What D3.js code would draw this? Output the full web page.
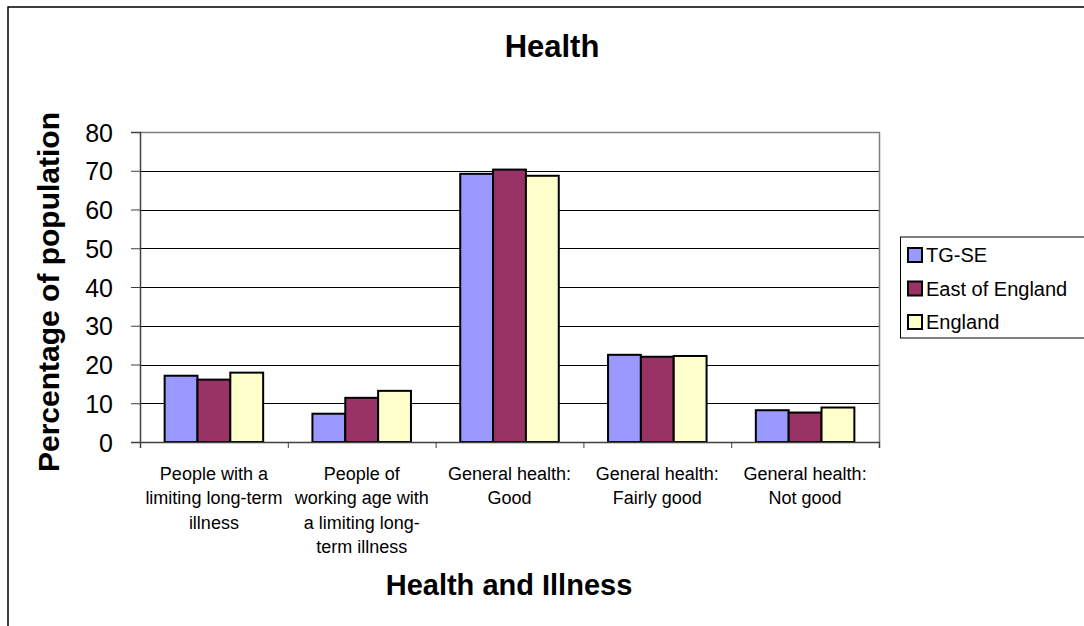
<!DOCTYPE html>
<html><head><meta charset="utf-8">
<script src="https://cdn.jsdelivr.net/npm/d3@7"></script>
<style>body{margin:0;background:#fff}svg{display:block;font-family:"Liberation Sans",Arial,sans-serif}</style>
</head><body><svg id="c" width="1084" height="626"></svg>
<script>
const categories = [
  ["People with a","limiting long-term","illness"],
  ["People of","working age with","a limiting long-","term illness"],
  ["General health:","Good"],
  ["General health:","Fairly good"],
  ["General health:","Not good"]
];
const seriesNames = ["TG-SE","East of England","England"];
const tgse = [17.1, 7.3, 69.2, 22.5, 8.2];
const eastOfEngland = [16.1, 11.4, 70.3, 22.0, 7.6];
const england = [17.9, 13.2, 68.7, 22.2, 8.9];
const colors = ["#9999ff","#993366","#ffffcc"];
const yTicks = [0,10,20,30,40,50,60,70,80];

const series = [tgse, eastOfEngland, england];
const svg = d3.select("#c");
const L=140, R=879, T=132, B=442;

// outer chart frame
svg.append("rect").attr("x",8).attr("y",7).attr("width",1090).attr("height",640)
  .attr("fill","none").attr("stroke","#000").attr("stroke-width",1.5);

const x0 = d3.scaleBand().domain(d3.range(categories.length)).range([L,R]).paddingInner(0).paddingOuter(0);
const bw = x0.bandwidth()/4.5;
const y = d3.scaleLinear().domain([0,80]).range([B,T]);

// gridlines
svg.append("g").selectAll("line").data(yTicks.filter(d=>d>0 && d<80)).join("line")
  .attr("x1",L).attr("x2",R).attr("y1",d=>Math.round(y(d))+0.5).attr("y2",d=>Math.round(y(d))+0.5)
  .attr("stroke","#000").attr("stroke-width",1);
// plot border top/right gray
svg.append("path").attr("d",`M${L},${T+0.5}H${R+0.5}V${B}`).attr("fill","none").attr("stroke","#808080").attr("stroke-width",1.5);

// bars
series.forEach((s,si)=>{
  svg.append("g").selectAll("rect").data(s).join("rect")
    .attr("x",(d,i)=>x0(i)+bw*0.75+si*bw)
    .attr("y",d=>y(d))
    .attr("width",bw)
    .attr("height",d=>B-y(d))
    .attr("fill",colors[si]).attr("stroke","#000").attr("stroke-width",2);
});

// y axis
const ya = svg.append("g").attr("transform",`translate(${L},0)`)
  .call(d3.axisLeft(y).tickValues(yTicks).tickSize(9).tickPadding(18));
ya.select(".domain").attr("stroke","#404040").attr("stroke-width",1.5);
ya.selectAll(".tick line").attr("stroke","#404040");
ya.selectAll("text").attr("font-size",25).attr("fill","#000").attr("font-family","Liberation Sans, Arial, sans-serif").attr("dy","0.36em");

// x axis
const xa = svg.append("g").attr("transform",`translate(0,${B})`)
  .call(d3.axisBottom(d3.scaleLinear().domain([0,5]).range([L,R])).tickValues([0,1,2,3,4,5]).tickSize(6).tickFormat(""));
xa.select(".domain").attr("stroke","#404040").attr("stroke-width",1.5);
xa.selectAll(".tick line").attr("stroke","#404040");

// category labels
categories.forEach((lines,i)=>{
  const cx = x0(i)+x0.bandwidth()/2;
  const t = svg.append("text").attr("x",cx).attr("y",480)
    .attr("text-anchor","middle").attr("font-size",18);
  lines.forEach((ln,j)=>t.append("tspan").attr("x",cx).attr("dy",j?24.3:0).text(ln));
});

// titles
svg.append("text").attr("x",552).attr("y",57).attr("text-anchor","middle").attr("font-size",31).attr("font-weight","bold").text("Health");
svg.append("text").attr("x",509).attr("y",595).attr("text-anchor","middle").attr("font-size",29).attr("font-weight","bold").text("Health and Illness");
svg.append("text").attr("transform","translate(59,292) rotate(-90)").attr("text-anchor","middle").attr("font-size",30).attr("font-weight","bold").text("Percentage of population");

// legend
svg.append("rect").attr("x",900.5).attr("y",237).attr("width",200).attr("height",101).attr("fill","#fff").attr("stroke","#000");
seriesNames.forEach((n,i)=>{
  const cy = 255 + i*33.5;
  svg.append("rect").attr("x",908).attr("y",cy-7).attr("width",14).attr("height",14).attr("fill",colors[i]).attr("stroke","#000").attr("stroke-width",2);
  svg.append("text").attr("x",926).attr("y",cy+7).attr("font-size",20).text(n);
});
</script></body></html>
